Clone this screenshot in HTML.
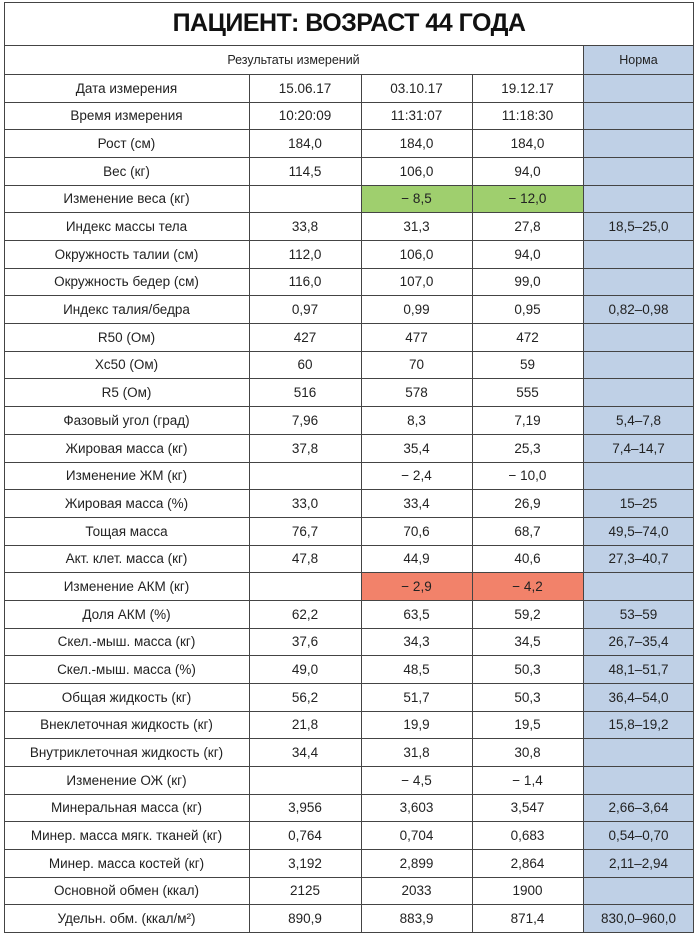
<!DOCTYPE html>
<html><head><meta charset="utf-8">
<style>
html,body{margin:0;padding:0;background:#fff;width:700px;height:940px;overflow:hidden}
body{font-family:"Liberation Sans","DejaVu Sans",sans-serif;color:#222}
#tbl{position:absolute;left:4px;top:2px;width:690px}
.cell{position:absolute;box-sizing:border-box;display:flex;align-items:center;justify-content:center;font-size:13.5px;white-space:nowrap}
.line{position:absolute;background:#444}
</style></head><body>
<div id="tbl"></div>
<script>
const labels=["Дата измерения","Время измерения","Рост (см)","Вес (кг)","Изменение веса (кг)","Индекс массы тела","Окружность талии (см)","Окружность бедер (см)","Индекс талия/бедра","R50 (Ом)","Xc50 (Ом)","R5 (Ом)","Фазовый угол (град)","Жировая масса (кг)","Изменение ЖМ (кг)","Жировая масса (%)","Тощая масса","Акт. клет. масса (кг)","Изменение АКМ (кг)","Доля АКМ (%)","Скел.-мыш. масса (кг)","Скел.-мыш. масса (%)","Общая жидкость (кг)","Внеклеточная жидкость (кг)","Внутриклеточная жидкость (кг)","Изменение ОЖ (кг)","Минеральная масса (кг)","Минер. масса мягк. тканей (кг)","Минер. масса костей (кг)","Основной обмен (ккал)","Удельн. обм. (ккал/м²)"];
const col1=["15.06.17","10:20:09","184,0","114,5","","33,8","112,0","116,0","0,97","427","60","516","7,96","37,8","","33,0","76,7","47,8","","62,2","37,6","49,0","56,2","21,8","34,4","","3,956","0,764","3,192","2125","890,9"];
const col2=["03.10.17","11:31:07","184,0","106,0","− 8,5","31,3","106,0","107,0","0,99","477","70","578","8,3","35,4","− 2,4","33,4","70,6","44,9","− 2,9","63,5","34,3","48,5","51,7","19,9","31,8","− 4,5","3,603","0,704","2,899","2033","883,9"];
const col3=["19.12.17","11:18:30","184,0","94,0","− 12,0","27,8","94,0","99,0","0,95","472","59","555","7,19","25,3","− 10,0","26,9","68,7","40,6","− 4,2","59,2","34,5","50,3","50,3","19,5","30,8","− 1,4","3,547","0,683","2,864","1900","871,4"];
const norms=["","","","","","18,5–25,0","","","0,82–0,98","","","","5,4–7,8","7,4–14,7","","15–25","49,5–74,0","27,3–40,7","","53–59","26,7–35,4","48,1–51,7","36,4–54,0","15,8–19,2","","","2,66–3,64","0,54–0,70","2,11–2,94","","830,0–960,0"];
const t=document.getElementById('tbl');
const X=[0,245,357,468,579,690];
const top0=72, rh=27.68;
const R=i=>Math.round(top0+i*rh);
function cell(x,y,w,h,txt,bg,name,fs){
  const d=document.createElement('div');d.className='cell';
  d.style.left=x+'px';d.style.top=y+'px';d.style.width=w+'px';d.style.height=h+'px';
  if(bg)d.style.background=bg;
  if(fs)d.style.fontSize=fs;
  d.textContent=txt;
  
  
  t.appendChild(d);return d;
}
function line(x,y,w,h){
  const d=document.createElement('div');d.className='line';
  d.style.left=x+'px';d.style.top=y+'px';d.style.width=w+'px';d.style.height=h+'px';
  
  
  t.appendChild(d);
}
const T=cell(0,0,690,43,"ПАЦИЕНТ: ВОЗРАСТ 44 ГОДА",null,'table-title','25px');
T.style.fontWeight='bold';T.style.letterSpacing='-0.5px';T.style.color='#111';
cell(0,43,579,29,"Результаты измерений",null,'results-header','12.5px');
cell(579,43,111,29,"Норма","#bfd0e6",'norm-header','12.5px');
const n=labels.length;
const bottom=R(n);
const nb=document.createElement('div');nb.style.cssText='position:absolute;left:579px;top:72px;width:111px;height:'+(bottom-72)+'px;background:#bfd0e6';


t.appendChild(nb);
for(let i=0;i<n;i++){
  const y=R(i), h=R(i+1)-y;
  cell(X[0],y,245,h,labels[i],null,'row-label');
  const hl=labels[i]==="Изменение веса (кг)"?"#9fcf6e":(labels[i]==="Изменение АКМ (кг)"?"#f2826a":null);
  cell(X[1],y,112,h,col1[i],null,'value-col1');
  cell(X[2],y,111,h,col2[i],hl,'value-col2');
  cell(X[3],y,111,h,col3[i],hl,'value-col3');
  cell(X[4],y,111,h,norms[i],null,'norm-value');
}
line(0,0,690,1);line(0,43,690,1);
for(let i=0;i<=n;i++)line(0,R(i),690,1);
line(0,0,1,bottom+1);line(689,0,1,bottom+1);
line(579,43,1,bottom-43);
for(const x of [245,357,468])line(x,top0,1,bottom-top0);
</script>
</body></html>
